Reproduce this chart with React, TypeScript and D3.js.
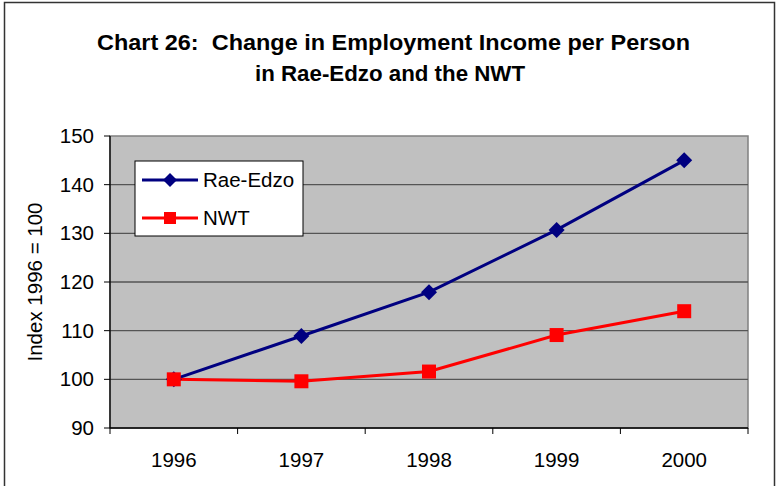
import React from "react";
import * as d3 from "d3";

const years = ["1996", "1997", "1998", "1999", "2000"];
const raeEdzo = [100, 108.9, 117.9, 130.7, 145];
const nwt = [100, 99.6, 101.6, 109.1, 114];
const yTicks = [90, 100, 110, 120, 130, 140, 150];

const W = 776, H = 486;
const plot = { left: 110, right: 748, top: 136, bottom: 428 };

export default function App() {
  const x = d3.scaleBand().domain(years).range([plot.left, plot.right]);
  const y = d3.scaleLinear().domain([90, 150]).range([plot.bottom, plot.top]);
  const cx = (d: string) => (x(d) as number) + x.bandwidth() / 2;
  const line = d3.line<number>().x((_, i) => cx(years[i])).y((v) => y(v));
  const font = "Arial, 'Liberation Sans', sans-serif";
  const boundaries = years.map((d) => x(d) as number).concat([plot.right]);
  const diamond = (px: number, py: number, r: number) =>
    `M${px},${py - r}L${px + r},${py}L${px},${py + r}L${px - r},${py}Z`;
  const fs = 20.5;
  return (
    <svg width={W} height={H} style={{ position: "absolute", left: 0, top: 0 }} fontFamily={font}>
      <rect x={0} y={0} width={W} height={H} fill="#fff" />
      <rect x={4.5} y={2.5} width={770} height={H + 10} fill="none" stroke="#333" strokeWidth={1.5} />
      <text x={97} y={50} fontSize={22.5} fontWeight="bold" fill="#000" textLength={593} lengthAdjust="spacingAndGlyphs" style={{ whiteSpace: "pre" }}>
        {"Chart 26:  Change in Employment Income per Person"}
      </text>
      <text x={255} y={81} fontSize={22.5} fontWeight="bold" fill="#000" textLength={270} lengthAdjust="spacingAndGlyphs">
        in Rae-Edzo and the NWT
      </text>
      <rect x={plot.left} y={plot.top} width={plot.right - plot.left} height={plot.bottom - plot.top} fill="#c0c0c0" stroke="#808080" strokeWidth={1.5} />
      {yTicks.map((t) => (
        <g key={t}>
          {t !== 90 && t !== 150 && (
            <line x1={plot.left} x2={plot.right} y1={y(t)} y2={y(t)} stroke="#555" strokeWidth={1.3} />
          )}
          <line x1={plot.left - 6} x2={plot.left} y1={y(t)} y2={y(t)} stroke="#000" strokeWidth={1} />
          <text x={94} y={y(t) + 7} textAnchor="end" fontSize={fs} fill="#000">{t}</text>
        </g>
      ))}
      <line x1={plot.left} x2={plot.left} y1={plot.top} y2={plot.bottom} stroke="#000" strokeWidth={1.3} />
      <line x1={plot.left} x2={plot.right} y1={plot.bottom} y2={plot.bottom} stroke="#000" strokeWidth={1.3} />
      {boundaries.map((b, i) => (
        <line key={i} x1={b} x2={b} y1={plot.bottom} y2={plot.bottom + 6} stroke="#000" strokeWidth={1} />
      ))}
      {years.map((d) => (
        <text key={d} x={cx(d)} y={467} textAnchor="middle" fontSize={fs} fill="#000">{d}</text>
      ))}
      <text transform={`translate(42,282) rotate(-90)`} textAnchor="middle" fontSize={fs} fill="#000">
        Index 1996 = 100
      </text>
      <path d={line(raeEdzo) as string} fill="none" stroke="#000080" strokeWidth={3} />
      <path d={line(nwt) as string} fill="none" stroke="#ff0000" strokeWidth={3} />
      {raeEdzo.map((v, i) => (
        <path key={i} d={diamond(cx(years[i]), y(v), 8)} fill="#000080" />
      ))}
      {nwt.map((v, i) => (
        <rect key={i} x={cx(years[i]) - 7} y={y(v) - 7} width={14} height={14} fill="#ff0000" />
      ))}
      <rect x={135} y={161} width={168} height={75} fill="#fff" stroke="#000" strokeWidth={1} />
      <line x1={142} x2={198} y1={180} y2={180} stroke="#000080" strokeWidth={3} />
      <path d={diamond(170, 180, 7)} fill="#000080" />
      <text x={203} y={187} fontSize={fs} fill="#000">Rae-Edzo</text>
      <line x1={142} x2={198} y1={218} y2={218} stroke="#ff0000" strokeWidth={3} />
      <rect x={164} y={212} width={12} height={12} fill="#ff0000" />
      <text x={203} y={225} fontSize={fs} fill="#000">NWT</text>
    </svg>
  );
}
